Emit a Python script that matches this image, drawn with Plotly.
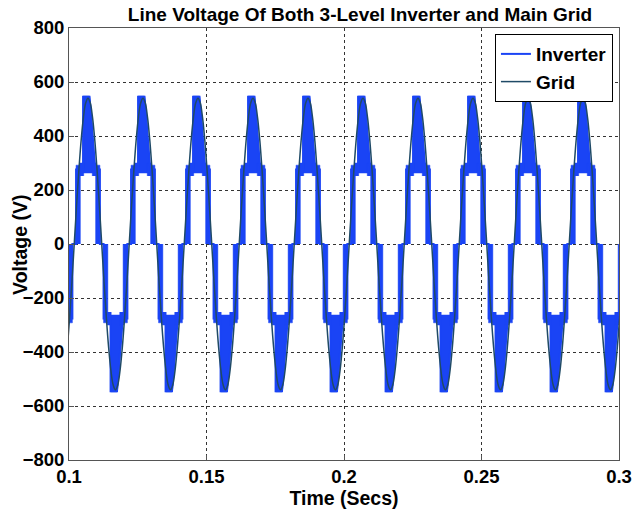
import plotly.graph_objects as go

# ---- data -------------------------------------------------------------
PERIOD_S = 0.02
# rising zero crossings of the line voltage (one per fundamental cycle)
RISE_ZERO_T = [0.0819, 0.1019, 0.1219, 0.1419, 0.1619, 0.1819,
               0.2019, 0.2219, 0.2419, 0.2619, 0.2819]

# grid line voltage over one cycle (electrical degrees -> volts)
GRID_DEG = [0, 15, 30, 45, 60, 75, 90, 105, 120, 135, 150, 165, 180,
            195, 210, 225, 240, 255, 270, 285, 300, 315, 330, 345, 360]
GRID_V = [0, 140, 270, 382, 468, 522, 540, 522, 468, 382, 270, 140, 0,
          -140, -270, -382, -468, -522, -540, -522, -468, -382, -270, -140, 0]

# inverter step outline over one cycle
INV_STEP_DEG = [0, 12, 12, 58, 58, 100, 138, 168, 168, 192, 192, 238, 238, 280, 318, 348, 348, 360]
INV_STEP_V = [0, 0, 276, 276, 545, 545, 276, 276, 0, 0, -276, -276, -545, -545, -276, -276, 0, 0]

# densely switched regions of the positive half cycle (negative half mirrors it)
INV_BANDS = {
    "rise": ([12, 12, 40, 40], [0, 292, 292, 0]),
    "left_level": ([36, 36, 62, 62], [252, 300, 300, 252]),
    "peak": ([56, 58, 100, 106, 114, 122, 130, 136, 138],
             [262, 548, 548, 530, 480, 420, 350, 290, 262]),
    "right_level": ([118, 118, 144, 144], [252, 300, 300, 252]),
    "fall": ([140, 140, 168, 168], [0, 292, 292, 0]),
}

X_TICKS = [0.1, 0.15, 0.2, 0.25, 0.3]
X_TICK_TEXT = ["0.1", "0.15", "0.2", "0.25", "0.3"]
Y_TICKS = [-800, -600, -400, -200, 0, 200, 400, 600, 800]

INV_COLOR = "#1a44f5"
GRID_COLOR = "#1f4a66"


def deg_to_t(t0, deg):
    return t0 + deg / 360.0 * PERIOD_S


# ---- build traces ------------------------------------------------------
band_x, band_y = [], []
step_x, step_y = [], []
grid_x, grid_y = [], []
for t0 in RISE_ZERO_T:
    for degs, volts in INV_BANDS.values():
        for sign, shift in ((1, 0), (-1, 180)):
            band_x += [deg_to_t(t0, d + shift) for d in degs] + [None]
            band_y += [sign * v for v in volts] + [None]
    step_x += [deg_to_t(t0, d) for d in INV_STEP_DEG]
    step_y += INV_STEP_V
    grid_x += [deg_to_t(t0, d) for d in GRID_DEG[:-1]]
    grid_y += GRID_V[:-1]

fig = go.Figure()
fig.add_trace(go.Scatter(
    x=band_x, y=band_y, mode="lines", fill="toself",
    fillcolor=INV_COLOR, line=dict(color=INV_COLOR, width=0.5),
    showlegend=False, hoverinfo="skip"))
fig.add_trace(go.Scatter(
    x=step_x, y=step_y, mode="lines", name="Inverter",
    line=dict(color=INV_COLOR, width=2), legendgroup="inv"))
fig.add_trace(go.Scatter(
    x=grid_x, y=grid_y, mode="lines", name="Grid",
    line=dict(color=GRID_COLOR, width=1.5, shape="spline"), legendgroup="grid"))

FAMILY = "Liberation Sans, Arial, sans-serif"
tick_font = dict(family=FAMILY, size=18.5, color="black", weight="bold")
title_font = dict(family=FAMILY, size=19, color="black", weight="bold")
axis_title_font = dict(family=FAMILY, size=19.5, color="black", weight="bold")

axis_common = dict(
    showline=True, mirror=True, linecolor="#555555", linewidth=1,
    ticks="inside", ticklen=5, tickcolor="#555555",
    showgrid=True, gridcolor="#333333", gridwidth=1, griddash="3px,3px",
    zeroline=False, tickfont=tick_font, automargin=False,
)

fig.update_layout(
    width=633, height=512,
    margin=dict(l=69, r=14, t=28, b=52),
    paper_bgcolor="white", plot_bgcolor="white",
    title=dict(text="Line Voltage Of Both 3-Level Inverter and Main Grid",
               font=title_font, x=0.529, xref="paper", xanchor="center",
               y=0.972, yref="container", yanchor="middle"),
    xaxis=dict(range=[0.1, 0.3], tickvals=X_TICKS, ticktext=X_TICK_TEXT,
               title=dict(text="Time (Secs)", font=axis_title_font, standoff=4),
               **axis_common),
    yaxis=dict(range=[-800, 800], tickvals=Y_TICKS, **axis_common),
    legend=dict(x=0.989, y=0.986, xanchor="right", yanchor="top",
                bgcolor="white", bordercolor="black", borderwidth=1,
                font=dict(family=FAMILY, size=19, color="black", weight="bold"),
                tracegroupgap=0, itemwidth=30),
    showlegend=True,
)

# y-axis title sits close to the tick labels
fig.add_annotation(
    text="Voltage (V)", textangle=-90, font=axis_title_font,
    xref="paper", yref="paper", x=-0.089, y=0.498,
    xanchor="center", yanchor="middle", showarrow=False)

fig.write_html("out.html")
